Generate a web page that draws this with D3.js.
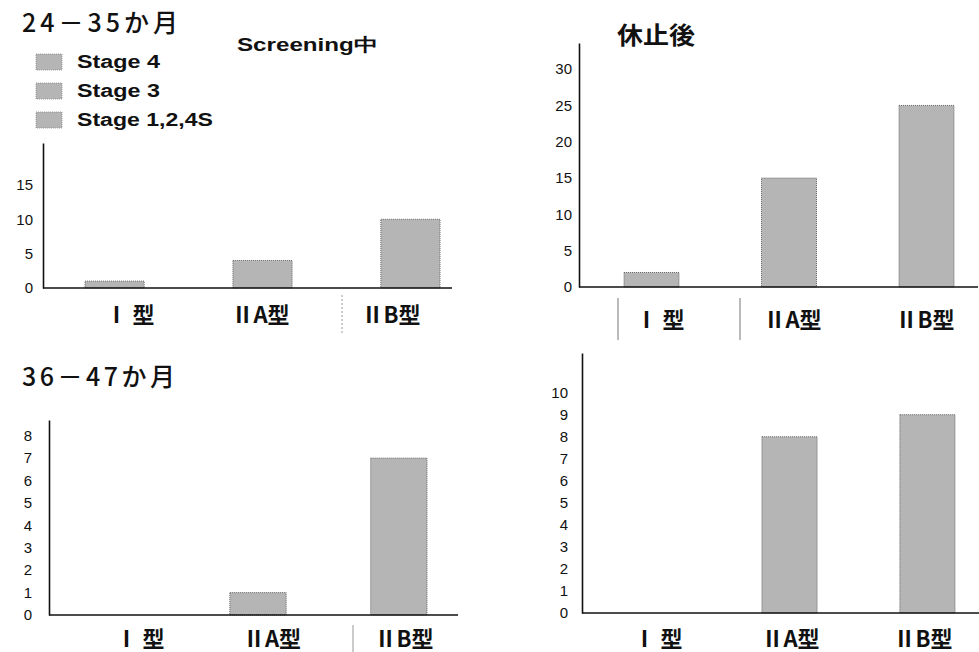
<!DOCTYPE html>
<html><head><meta charset="utf-8">
<script src="https://cdn.jsdelivr.net/npm/d3@7"></script>
<style>
html,body{margin:0;padding:0;background:#fff;}
svg{display:block;}
</style></head>
<body>
<svg id="c" width="979" height="652"></svg>
<script>
// ---- data ----
const categories = ["Ⅰ 型", "ⅡA型", "ⅡB型"];
const screening2435 = [1, 4, 10];
const after2435 = [2, 15, 25];
const screening3647 = [0, 1, 7];
const after3647 = [0, 8, 9];
const ticksTL = [0, 5, 10, 15];
const ticksTR = [0, 5, 10, 15, 20, 25, 30];
const ticksBL = [0, 1, 2, 3, 4, 5, 6, 7, 8];
const ticksBR = [0, 1, 2, 3, 4, 5, 6, 7, 8, 9, 10];
const legendLabels = ["Stage 4", "Stage 3", "Stage 1,2,4S"];
const titles = ["24－35か月", "36－47か月"];
const subTitles = ["Screening中", "休止後"];

const svg = d3.select("#c");
const BAR = "#b5b5b5";
const CJK = "'Noto Sans CJK JP', 'Noto Sans', sans-serif";
const SANS = "'Liberation Sans', Arial, sans-serif";

const panels = [
  {vals: screening2435, ticks: ticksTL, ymax: 21.1, ax: [43, 452], yr: [288, 143], br: [85, 440], lr: [130, 391], ly: 315, tp: 10},
  {vals: after2435, ticks: ticksTR, ymax: 33.6, ax: [579, 978], yr: [287, 43], br: [624, 954], lr: [660, 925], ly: 320, tp: 7},
  {vals: screening3647, ticks: ticksBL, ymax: 8.7, ax: [49, 458], yr: [615, 420], br: [89, 427], lr: [140, 404], ly: 639, tp: 17},
  {vals: after3647, ticks: ticksBR, ymax: 11.8, ax: [582, 979], yr: [613, 353], br: [624, 955], lr: [658, 923], ly: 639, tp: 14}
];

panels.forEach(p => {
  const g = svg.append("g");
  const y = d3.scaleLinear().domain([0, p.ymax]).range(p.yr);
  const x = d3.scaleBand().domain(categories).range(p.br).paddingInner(0.6).paddingOuter(0);
  const xl = d3.scalePoint().domain(categories).range(p.lr);

  g.selectAll("rect.bar").data(p.vals).join("rect")
    .attr("class", "bar")
    .attr("x", (d, i) => x(categories[i]))
    .attr("width", x.bandwidth())
    .attr("y", d => y(d))
    .attr("height", d => y(0) - y(d))
    .attr("fill", BAR)
    .attr("stroke", d => d > 0 ? "#666" : "none")
    .attr("stroke-width", 1)
    .attr("stroke-dasharray", "1,1");

  g.append("line")
    .attr("x1", p.ax[0]).attr("x2", p.ax[1])
    .attr("y1", y(0)).attr("y2", y(0))
    .attr("stroke", "#111").attr("stroke-width", 1.6);

  const ya = g.append("g").attr("transform", `translate(${p.ax[0]},0)`)
    .call(d3.axisLeft(y).tickValues(p.ticks).tickSize(0).tickSizeOuter(0).tickPadding(p.tp));
  ya.select(".domain").attr("stroke", "#111").attr("stroke-width", 1.6);
  ya.selectAll("text").attr("font-family", SANS).attr("font-size", 15).attr("fill", "#111");

  g.selectAll("text.cat").data(categories).join("text")
    .attr("class", "cat")
    .attr("x", d => xl(d))
    .attr("y", p.ly)
    .attr("dy", "0.36em")
    .attr("text-anchor", "middle")
    .attr("font-family", CJK)
    .attr("font-weight", 700)
    .attr("font-size", 22)
    .attr("fill", "#111")
    .text(d => d);
});

// category separators (faint)
const seps = [[342, 295, 335, "#999"], [618, 298, 340, "#777"], [740, 298, 340, "#777"], [353, 625, 652, "#999"]];
svg.selectAll("line.sep").data(seps).join("line")
  .attr("class", "sep")
  .attr("x1", d => d[0]).attr("x2", d => d[0])
  .attr("y1", d => d[1]).attr("y2", d => d[2])
  .attr("stroke", d => d[3]).attr("stroke-width", 1)
  .attr("stroke-dasharray", (d, i) => i === 0 ? "2,2" : null);

// titles
svg.append("text").attr("x", 22).attr("y", 23).attr("dy", "0.36em")
  .attr("font-family", CJK).attr("font-weight", 500).attr("font-size", 25)
  .attr("textLength", 156).attr("lengthAdjust", "spacing").attr("fill", "#111")
  .text(titles[0]);
svg.append("text").attr("x", 22).attr("y", 377).attr("dy", "0.36em")
  .attr("font-family", CJK).attr("font-weight", 500).attr("font-size", 25)
  .attr("textLength", 153).attr("lengthAdjust", "spacing").attr("fill", "#111")
  .text(titles[1]);
svg.append("text").attr("x", 237).attr("y", 45).attr("dy", "0.36em")
  .attr("font-family", SANS).attr("font-weight", 700).attr("font-size", 18)
  .attr("textLength", 141).attr("lengthAdjust", "spacingAndGlyphs").attr("fill", "#111")
  .text(subTitles[0]);
svg.append("text").attr("x", 617).attr("y", 35).attr("dy", "0.36em")
  .attr("font-family", CJK).attr("font-weight", 700).attr("font-size", 24)
  .attr("textLength", 78).attr("lengthAdjust", "spacingAndGlyphs").attr("fill", "#111")
  .text(subTitles[1]);

// legend
const ly = d3.scalePoint().domain(legendLabels).range([62, 120]);
const lg = svg.append("g");
lg.selectAll("rect").data(legendLabels).join("rect")
  .attr("x", 36).attr("width", 26)
  .attr("y", d => ly(d) - 8).attr("height", 16)
  .attr("fill", BAR).attr("stroke", "#888").attr("stroke-width", 0.8).attr("stroke-dasharray", "1,1");
lg.selectAll("text").data(legendLabels).join("text")
  .attr("x", 77).attr("y", d => ly(d)).attr("dy", "0.36em")
  .attr("font-family", SANS).attr("font-weight", 700).attr("font-size", 18)
  .attr("textLength", (d, i) => i === 2 ? 136 : 83)
  .attr("lengthAdjust", "spacingAndGlyphs").attr("fill", "#111")
  .text(d => d);
</script>
</body></html>
